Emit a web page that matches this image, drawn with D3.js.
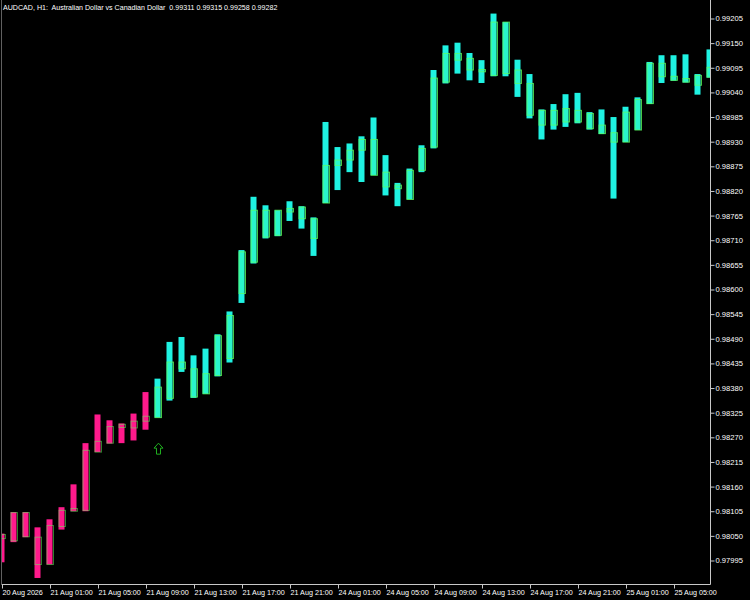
<!DOCTYPE html>
<html><head><meta charset="utf-8">
<script src="https://cdn.jsdelivr.net/npm/d3@7"></script>
<style>
html,body{margin:0;padding:0;background:#000;}
svg{display:block;}
text{font-family:"Liberation Sans",Arial,sans-serif;}
</style></head>
<body>
<svg id="c" width="750" height="600"></svg>
<script>
// ---- data ----
const barIndex = d3.range(60);
const openP  = [0.98044,0.98039,0.98102,0.98047,0.97986,0.98071,0.98105,0.98107,0.98237,0.98257,0.98292,0.98291,0.98306,0.98314,0.98357,0.98438,0.98423,0.98367,0.98408,0.98446,0.98591,0.98661,0.98777,0.98721,0.98773,0.98784,0.98758,0.98793,0.98877,0.98889,0.98911,0.98935,0.98862,0.98825,0.98801,0.98866,0.98918,0.99063,0.99127,0.99116,0.99086,0.99078,0.99197,0.99090,0.99060,0.98967,0.99000,0.98974,0.99000,0.98993,0.98967,0.98950,0.98929,0.98956,0.99015,0.99105,0.99067,0.99071,0.99078,0.99074];
const highP  = [0.98055,0.98103,0.98103,0.98069,0.98087,0.98114,0.98165,0.98257,0.98321,0.98308,0.98301,0.98323,0.98371,0.98401,0.98483,0.98494,0.98453,0.98468,0.98500,0.98551,0.98688,0.98807,0.98788,0.98777,0.98797,0.98786,0.98761,0.98974,0.98918,0.98926,0.98942,0.98984,0.98900,0.98838,0.98870,0.98922,0.99090,0.99145,0.99151,0.99128,0.99112,0.99216,0.99197,0.99113,0.99081,0.99002,0.99014,0.99036,0.99039,0.98996,0.99002,0.98985,0.99008,0.99029,0.99108,0.99123,0.99123,0.99125,0.99081,0.99136];
const lowP   = [0.97991,0.98036,0.98047,0.97956,0.97986,0.98064,0.98105,0.98105,0.98237,0.98256,0.98257,0.98263,0.98287,0.98314,0.98352,0.98416,0.98358,0.98367,0.98406,0.98437,0.98570,0.98658,0.98714,0.98719,0.98753,0.98736,0.98675,0.98793,0.98822,0.98862,0.98840,0.98855,0.98810,0.98786,0.98801,0.98862,0.98915,0.99060,0.99082,0.99067,0.99061,0.99076,0.99076,0.99030,0.98982,0.98935,0.98957,0.98963,0.98971,0.98957,0.98947,0.98803,0.98929,0.98956,0.99014,0.99061,0.99066,0.99062,0.99035,0.99073];
const closeP = [0.98053,0.98102,0.98048,0.97986,0.98073,0.98107,0.98111,0.98241,0.98261,0.98294,0.98299,0.98306,0.98317,0.98382,0.98438,0.98423,0.98360,0.98412,0.98497,0.98542,0.98684,0.98777,0.98717,0.98777,0.98781,0.98758,0.98714,0.98877,0.98889,0.98911,0.98935,0.98855,0.98829,0.98833,0.98866,0.98915,0.99072,0.99127,0.99112,0.99090,0.99091,0.99197,0.99082,0.99060,0.98989,0.99000,0.98967,0.99004,0.98974,0.98959,0.98948,0.98929,0.98996,0.99024,0.99105,0.99075,0.99076,0.99063,0.99056,0.99096];
// trend state per bar: 0 = down (pink), 1 = up (cyan)
const trend = [0,0,0,0,0,0,0,0,0,0,0,0,0,1,1,1,1,1,1,1,1,1,1,1,1,1,1,1,1,1,1,1,1,1,1,1,1,1,1,1,1,1,1,1,1,1,1,1,1,1,1,1,1,1,1,1,1,1,1,1];
const arrowBars   = [13];
const arrowPrices = [0.98257];
const yTicks = [0.99205,0.99150,0.99095,0.99040,0.98985,0.98930,0.98875,0.98820,0.98765,0.98710,0.98655,0.98600,0.98545,0.98490,0.98435,0.98380,0.98325,0.98270,0.98215,0.98160,0.98105,0.98050,0.97995];
const xTickBars   = [0,4,8,12,16,20,24,28,32,36,40,44,48,52,56];
const xTickLabels = ["20 Aug 2026","21 Aug 01:00","21 Aug 05:00","21 Aug 09:00","21 Aug 13:00","21 Aug 17:00","21 Aug 21:00","24 Aug 01:00","24 Aug 05:00","24 Aug 09:00","24 Aug 13:00","24 Aug 17:00","24 Aug 21:00","25 Aug 01:00","25 Aug 05:00"];
const title = "AUDCAD, H1:  Australian Dollar vs Canadian Dollar  0.99311 0.99315 0.99258 0.99282";

// ---- layout ----
const W = 750, H = 600;
const plotL = 2, plotR = 710.5, plotT = 0, plotB = 584.5;
const trendColors = ["#ff1a8c", "#1ff2e2"];
const bodyStroke = "#5cff5c";
const axisColor = "#c8c8c8";

const svg = d3.select("#c");
svg.append("rect").attr("width", W).attr("height", H).attr("fill", "#000");

const x = d3.scaleLinear().domain([0, 59]).range([2, 710]);
const y = d3.scaleLinear().domain([0.97995, 0.99205]).range([560.5, 18.5]);

svg.append("clipPath").attr("id", "plotclip")
  .append("rect").attr("x", plotL).attr("y", plotT).attr("width", plotR - plotL).attr("height", plotB - plotT);

const g = svg.append("g").attr("clip-path", "url(#plotclip)");

const bars = barIndex.map(i => ({i, o: openP[i], h: highP[i], l: lowP[i], c: closeP[i], t: trend[i]}));

// thick range bars
g.selectAll("rect.rng").data(bars).join("rect").attr("class", "rng")
  .attr("x", d => x(d.i) - 3.5)
  .attr("width", 6)
  .attr("y", d => y(d.h))
  .attr("height", d => Math.max(1, y(d.l) - y(d.h)))
  .attr("fill", d => trendColors[d.t]);

// candle bodies
g.selectAll("rect.body").data(bars).join("rect").attr("class", "body")
  .attr("x", d => x(d.i) - 3)
  .attr("width", 6.5)
  .attr("y", d => y(Math.max(d.o, d.c)))
  .attr("height", d => Math.max(1, y(Math.min(d.o, d.c)) - y(Math.max(d.o, d.c))))
  .attr("fill", d => d.t === 1 ? "rgba(70,255,140,0.25)" : "none")
  .attr("stroke", bodyStroke)
  .attr("stroke-opacity", d => d.t === 1 ? 0.75 : 0.5)
  .attr("stroke-width", 1);

// arrows
const arrows = arrowBars.map((b, k) => ({b, p: arrowPrices[k]}));
g.selectAll("path.arrow").data(arrows).join("path").attr("class", "arrow")
  .attr("d", d => {
    const ax = x(d.b) + 0.5, ay = y(d.p);
    return `M${ax},${ay} L${ax+4.5},${ay+5} L${ax+2},${ay+5} L${ax+2},${ay+11} L${ax-2},${ay+11} L${ax-2},${ay+5} L${ax-4.5},${ay+5} Z`;
  })
  .attr("fill", "none").attr("stroke", "#1fae1f").attr("stroke-width", 1);

// frame lines
svg.append("line").attr("x1", plotR).attr("x2", plotR).attr("y1", 0).attr("y2", plotB).attr("stroke", axisColor);
svg.append("line").attr("x1", plotL - 0.5).attr("x2", plotR).attr("y1", plotB).attr("y2", plotB).attr("stroke", axisColor);
svg.append("line").attr("x1", 1.5).attr("x2", 1.5).attr("y1", 0).attr("y2", plotB).attr("stroke", "#606060");

// right axis
const yAxis = d3.axisRight(y).tickValues(yTicks).tickSize(4).tickPadding(1).tickFormat(d3.format(".5f"));
const ya = svg.append("g").attr("transform", `translate(${plotR},0)`).call(yAxis);
ya.select(".domain").remove();
ya.selectAll(".tick line").attr("stroke", axisColor);
ya.selectAll(".tick text").attr("fill", "#fff").style("font-size", "7.6px").style("font-family", "'Liberation Sans',Arial,sans-serif");

// bottom axis
const xAxis = d3.axisBottom(x).tickValues(xTickBars).tickSize(4).tickFormat((d, k) => xTickLabels[k]);
const xa = svg.append("g").attr("transform", `translate(0,${plotB})`).call(xAxis);
xa.select(".domain").remove();
xa.selectAll(".tick line").attr("stroke", axisColor);
xa.selectAll(".tick text").attr("fill", "#fff").attr("text-anchor", "start").attr("x", 0).attr("dy", "0.55em")
  .style("font-size", "7.2px").style("font-family", "'Liberation Sans',Arial,sans-serif");

// title
svg.append("text").attr("x", 3).attr("y", 9.5).attr("fill", "#fff")
  .style("font-size", "7.1px").attr("xml:space", "preserve").style("white-space", "pre").text(title);
</script>
</body></html>
